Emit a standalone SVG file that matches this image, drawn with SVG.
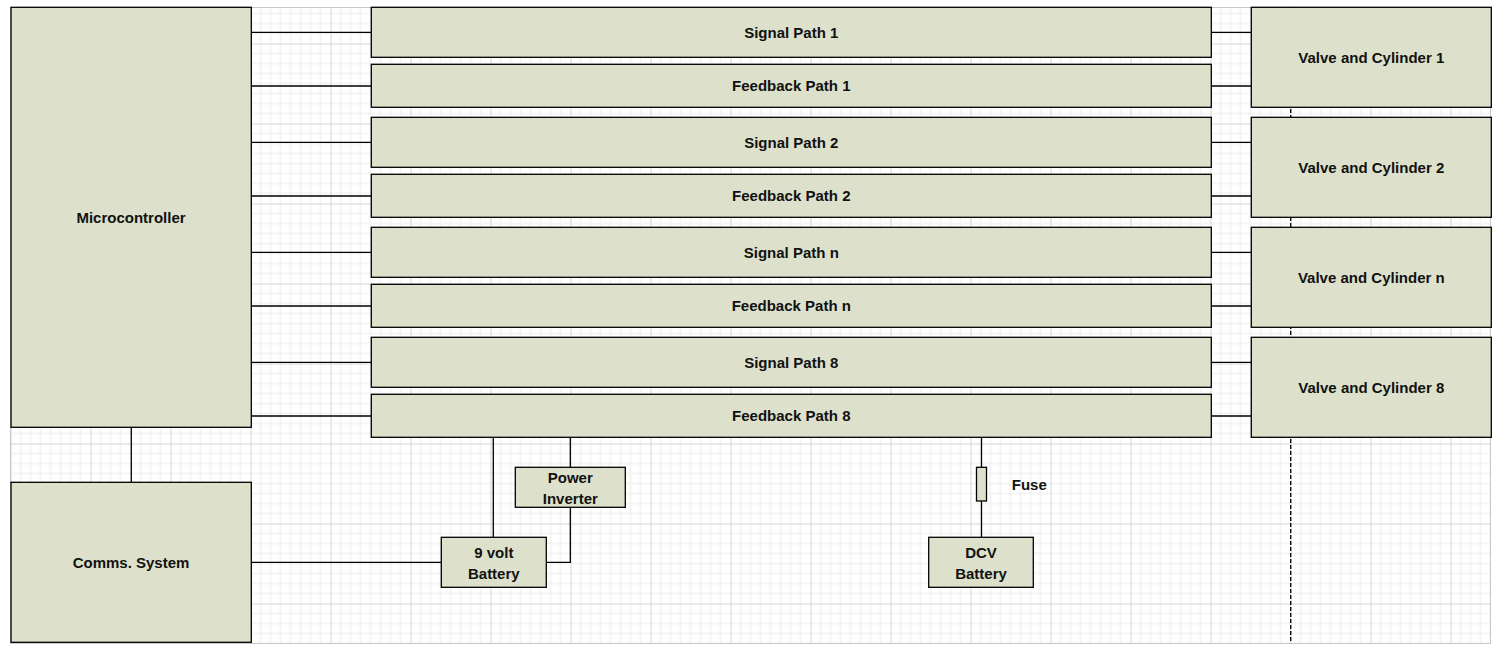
<svg xmlns="http://www.w3.org/2000/svg" width="1502" height="653" viewBox="0 0 1502 653">
<style>
.box{fill:#dde1cb;stroke:#000;stroke-width:1.3}
.t{font-family:"Liberation Sans",Arial,sans-serif;font-weight:bold;font-size:15px;fill:#111;text-anchor:middle;dominant-baseline:central}
.c{fill:none;stroke:#000;stroke-width:1.3}
.minor{stroke:#ebebeb;stroke-width:1}
.major{stroke:#d4d4d4;stroke-width:1}
</style>
<defs>
<pattern id="grid" patternUnits="userSpaceOnUse" x="10.5" y="43.5" width="80" height="80">
<g class="minor">
<line x1="10" y1="0" x2="10" y2="80"/><line x1="20" y1="0" x2="20" y2="80"/><line x1="30" y1="0" x2="30" y2="80"/><line x1="40" y1="0" x2="40" y2="80"/><line x1="50" y1="0" x2="50" y2="80"/><line x1="60" y1="0" x2="60" y2="80"/><line x1="70" y1="0" x2="70" y2="80"/>
<line x1="0" y1="10" x2="80" y2="10"/><line x1="0" y1="20" x2="80" y2="20"/><line x1="0" y1="30" x2="80" y2="30"/><line x1="0" y1="40" x2="80" y2="40"/><line x1="0" y1="50" x2="80" y2="50"/><line x1="0" y1="60" x2="80" y2="60"/><line x1="0" y1="70" x2="80" y2="70"/>
</g>
<g class="major">
<line x1="0.5" y1="0" x2="0.5" y2="80"/><line x1="0" y1="0.5" x2="80" y2="0.5"/>
</g>
</pattern>
</defs>
<rect width="1502" height="653" fill="#fff"/>
<g id="grid-bg">
<rect x="10.5" y="7.5" width="1480" height="636" fill="url(#grid)" stroke="#c8c8c8" stroke-width="1"/>
</g>
<g id="connectors">
<line class="c" x1="1290.7" y1="7" x2="1290.7" y2="643" stroke-dasharray="4,2"/>
<line class="c" x1="251" y1="32.3" x2="371" y2="32.3"/>
<line class="c" x1="251" y1="86" x2="371" y2="86"/>
<line class="c" x1="251" y1="142.3" x2="371" y2="142.3"/>
<line class="c" x1="251" y1="196" x2="371" y2="196"/>
<line class="c" x1="251" y1="252.3" x2="371" y2="252.3"/>
<line class="c" x1="251" y1="306" x2="371" y2="306"/>
<line class="c" x1="251" y1="362.3" x2="371" y2="362.3"/>
<line class="c" x1="251" y1="416" x2="371" y2="416"/>
<line class="c" x1="1211" y1="32.3" x2="1251" y2="32.3"/>
<line class="c" x1="1211" y1="86" x2="1251" y2="86"/>
<line class="c" x1="1211" y1="142.3" x2="1251" y2="142.3"/>
<line class="c" x1="1211" y1="196" x2="1251" y2="196"/>
<line class="c" x1="1211" y1="252.3" x2="1251" y2="252.3"/>
<line class="c" x1="1211" y1="306" x2="1251" y2="306"/>
<line class="c" x1="1211" y1="362.3" x2="1251" y2="362.3"/>
<line class="c" x1="1211" y1="416" x2="1251" y2="416"/>
<line class="c" x1="131.3" y1="427.3" x2="131.3" y2="482.3"/>
<line class="c" x1="251" y1="562.3" x2="441.3" y2="562.3"/>
<line class="c" x1="493.3" y1="437.3" x2="493.3" y2="537.3"/>
<line class="c" x1="570.3" y1="437.3" x2="570.3" y2="467.3"/>
<polyline class="c" points="570.3,507.3 570.3,562.3 546.3,562.3"/>
<line class="c" x1="981.5" y1="437.3" x2="981.5" y2="467.3"/>
<line class="c" x1="981.5" y1="501" x2="981.5" y2="537.3"/>
</g>
<g id="microcontroller"><rect class="box" x="11" y="7.3" width="240.3" height="420"/><text class="t" x="131" y="217.3">Microcontroller</text></g>
<g id="comms"><rect class="box" x="11" y="482.3" width="240.3" height="160"/><text class="t" x="131" y="562.3">Comms. System</text></g>
<g id="signal1"><rect class="box" x="371.3" y="7.3" width="840" height="50"/><text class="t" x="791.3" y="32.3">Signal Path 1</text></g>
<g id="feedback1"><rect class="box" x="371.3" y="64.3" width="840" height="43"/><text class="t" x="791.3" y="85.8">Feedback Path 1</text></g>
<g id="signal2"><rect class="box" x="371.3" y="117.3" width="840" height="50"/><text class="t" x="791.3" y="142.3">Signal Path 2</text></g>
<g id="feedback2"><rect class="box" x="371.3" y="174.3" width="840" height="43"/><text class="t" x="791.3" y="195.8">Feedback Path 2</text></g>
<g id="signaln"><rect class="box" x="371.3" y="227.3" width="840" height="50"/><text class="t" x="791.3" y="252.3">Signal Path n</text></g>
<g id="feedbackn"><rect class="box" x="371.3" y="284.3" width="840" height="43"/><text class="t" x="791.3" y="305.8">Feedback Path n</text></g>
<g id="signal8"><rect class="box" x="371.3" y="337.3" width="840" height="50"/><text class="t" x="791.3" y="362.3">Signal Path 8</text></g>
<g id="feedback8"><rect class="box" x="371.3" y="394.3" width="840" height="43"/><text class="t" x="791.3" y="415.8">Feedback Path 8</text></g>
<g id="valve1"><rect class="box" x="1251.3" y="7.3" width="240" height="100"/><text class="t" x="1371.3" y="57.3">Valve and Cylinder 1</text></g>
<g id="valve2"><rect class="box" x="1251.3" y="117.3" width="240" height="100"/><text class="t" x="1371.3" y="167.3">Valve and Cylinder 2</text></g>
<g id="valven"><rect class="box" x="1251.3" y="227.3" width="240" height="100"/><text class="t" x="1371.3" y="277.3">Valve and Cylinder n</text></g>
<g id="valve8"><rect class="box" x="1251.3" y="337.3" width="240" height="100"/><text class="t" x="1371.3" y="387.3">Valve and Cylinder 8</text></g>
<g id="inverter"><rect class="box" x="515.3" y="467.3" width="110" height="40"/><text class="t" x="570.3" y="477.3">Power</text><text class="t" x="570.3" y="498.3">Inverter</text></g>
<g id="battery9v"><rect class="box" x="441.3" y="537.3" width="105" height="50"/><text class="t" x="493.8" y="552.3">9 volt</text><text class="t" x="493.8" y="573.3">Battery</text></g>
<g id="fuse"><rect class="box" x="976.5" y="467.3" width="10" height="33.7"/><text class="t" x="1029.3" y="484">Fuse</text></g>
<g id="dcv"><rect class="box" x="928.7" y="537.3" width="104.6" height="50"/><text class="t" x="981" y="552.3">DCV</text><text class="t" x="981" y="573.3">Battery</text></g>
</svg>
